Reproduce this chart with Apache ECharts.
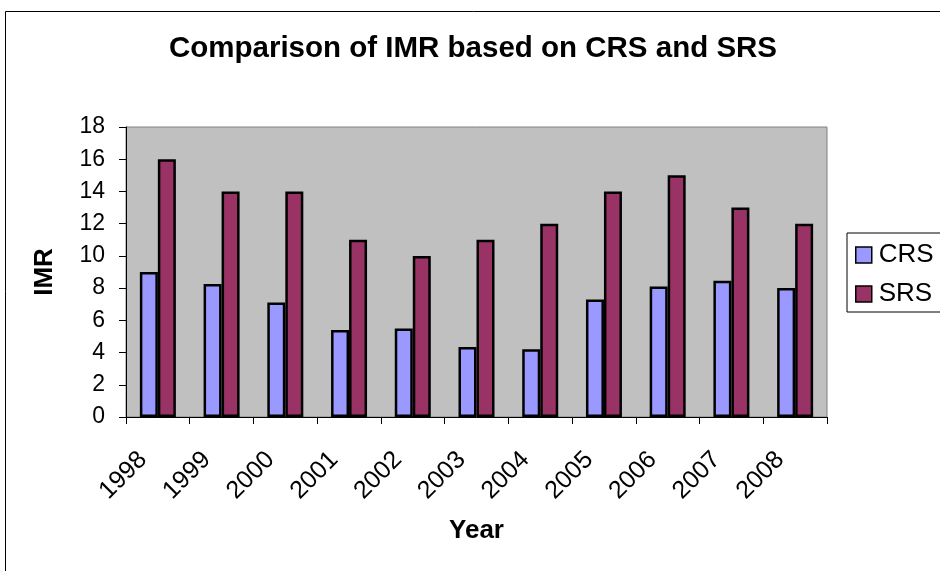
<!DOCTYPE html>
<html>
<head>
<meta charset="utf-8">
<script src="https://cdn.jsdelivr.net/npm/echarts@6/dist/echarts.min.js"></script>
<style>
  html, body { margin: 0; padding: 0; background: #fff; }
  #chart { width: 940px; height: 571px; }
</style>
</head>
<body>
<div id="chart"></div>
<script>
const years = ['1998', '1999', '2000', '2001', '2002', '2003', '2004', '2005', '2006', '2007', '2008'];
const crsValues = [9, 8.25, 7.1, 5.4, 5.5, 4.35, 4.2, 7.3, 8.1, 8.45, 8];
const srsValues = [16, 14, 14, 11, 10, 11, 12, 14, 15, 13, 12];

const chart = echarts.init(document.getElementById('chart'));
const font = 'Arial, "Liberation Sans", sans-serif';

chart.setOption({
  animation: false,
  backgroundColor: '#ffffff',
  graphic: [
    {
      type: 'rect',
      silent: true,
      shape: { x: 5.5, y: 11.5, width: 1000, height: 1000 },
      style: { fill: 'none', stroke: '#000', lineWidth: 1 }
    }
  ],
  title: {
    text: 'Comparison of IMR based on CRS and SRS',
    left: 468,
    textAlign: 'center',
    top: 29,
    textStyle: { fontFamily: font, fontSize: 29.5, fontWeight: 'bold', color: '#000' }
  },
  legend: {
    orient: 'vertical',
    left: 847,
    top: 233,
    padding: [9, 12, 5, 8],
    itemGap: 13,
    itemWidth: 16,
    itemHeight: 16,
    borderColor: '#000',
    borderWidth: 1,
    icon: 'rect',
    itemStyle: { borderColor: '#000', borderWidth: 1.5 },
    textStyle: { fontFamily: font, fontSize: 26, color: '#000', padding: [0, 0, 0, 2] },
    data: ['CRS', 'SRS']
  },
  grid: {
    left: 126,
    right: 113,
    top: 127,
    bottom: 154,
    show: true,
    backgroundColor: '#c0c0c0',
    borderColor: '#808080',
    borderWidth: 1
  },
  xAxis: {
    type: 'category',
    data: years,
    name: 'Year',
    nameLocation: 'middle',
    nameGap: 101,
    nameTextStyle: { fontFamily: font, fontSize: 26, fontWeight: 'bold', color: '#000' },
    axisLine: { lineStyle: { color: '#000', width: 1 } },
    axisTick: { show: true, length: 7, lineStyle: { color: '#000' } },
    axisLabel: {
      rotate: 45,
      margin: 24,
      padding: [0, 21, 0, 0],
      fontFamily: font,
      fontSize: 25,
      color: '#000',
      interval: 0
    }
  },
  yAxis: {
    type: 'value',
    min: 0,
    max: 18,
    interval: 2,
    name: 'IMR',
    nameLocation: 'middle',
    nameGap: 68,
    nameRotate: 90,
    nameTextStyle: { fontFamily: font, fontSize: 26, fontWeight: 'bold', color: '#000' },
    axisLine: { show: true, lineStyle: { color: '#000', width: 1 } },
    axisTick: { show: true, length: 7, lineStyle: { color: '#000' } },
    axisLabel: { fontFamily: font, fontSize: 23, color: '#000', margin: 21 },
    splitLine: { show: false }
  },
  series: [
    {
      name: 'CRS',
      type: 'bar',
      data: crsValues,
      barWidth: 18,
      barGap: '0%',
      itemStyle: { color: '#9999ff', borderColor: '#000', borderWidth: 2.5 }
    },
    {
      name: 'SRS',
      type: 'bar',
      data: srsValues,
      barWidth: 18,
      barGap: '0%',
      itemStyle: { color: '#993366', borderColor: '#000', borderWidth: 2.5 }
    }
  ]
});
</script>
</body>
</html>
